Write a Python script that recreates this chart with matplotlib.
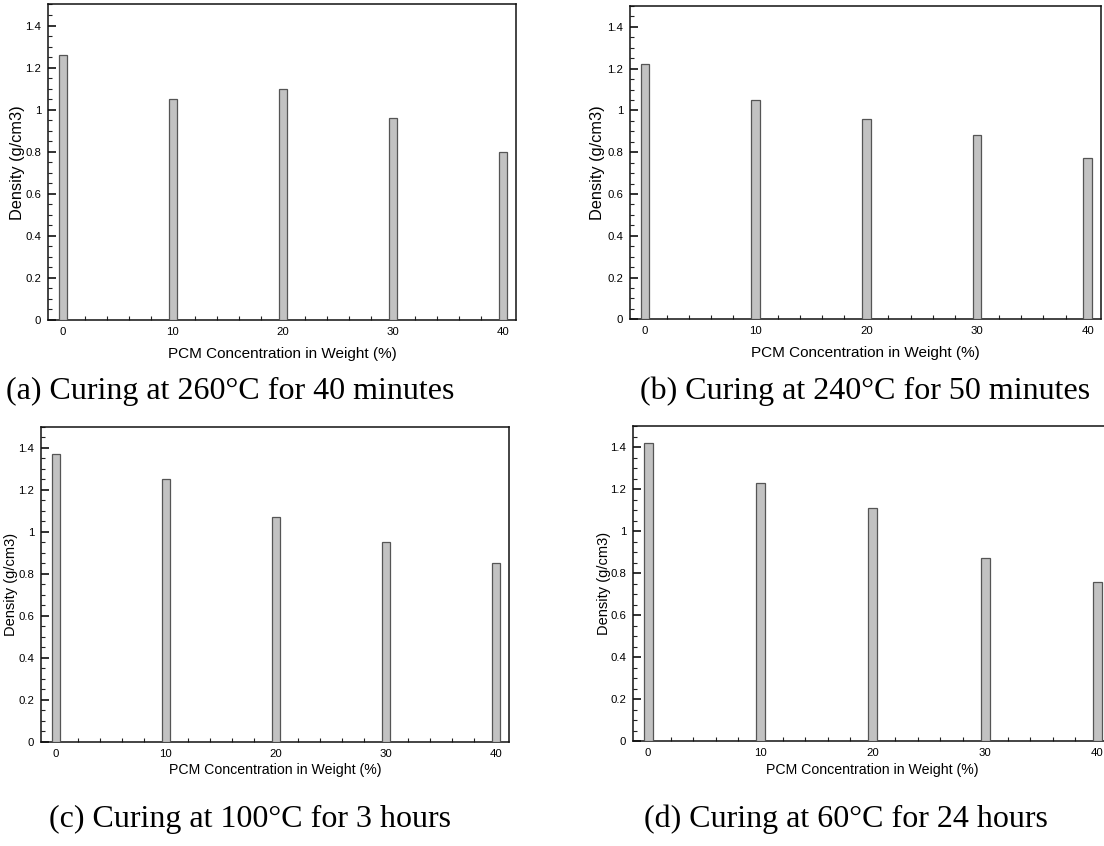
import numpy as np
import matplotlib
matplotlib.use("Agg")
import matplotlib.pyplot as plt
from matplotlib.ticker import MultipleLocator, FuncFormatter

# PCM weight fraction (%) and measured density (g/cm3) for each curing schedule
pcm = [0, 10, 20, 30, 40]
density_a = [1.26, 1.05, 1.10, 0.96, 0.80]
density_b = [1.22, 1.05, 0.96, 0.88, 0.77]
density_c = [1.37, 1.25, 1.07, 0.95, 0.85]
density_d = [1.42, 1.23, 1.11, 0.87, 0.76]

captions = [
    "(a) Curing at 260\u00b0C for 40 minutes",
    "(b) Curing at 240\u00b0C for 50 minutes",
    "(c) Curing at 100\u00b0C for 3 hours",
    "(d) Curing at 60\u00b0C for 24 hours",
]

W, H = 1104, 846
fig = plt.figure(figsize=(W / 100, H / 100), dpi=100)
sans = "Liberation Sans"
serif = "Liberation Serif"


def add_panel(box, values, xlab_size, ylab_size, ylab_x, xlab_y):
    left, top, right, bottom = box
    ax = fig.add_axes([left / W, 1 - bottom / H, (right - left) / W, (bottom - top) / H])
    ax.bar(pcm, values, width=0.78, color="#c2c2c2", edgecolor="#555555",
           linewidth=0.9, zorder=3)
    ax.set_xlim(-1.35, 41.2)
    ax.set_ylim(0, 1.5)
    ax.xaxis.set_major_locator(MultipleLocator(10))
    ax.xaxis.set_minor_locator(MultipleLocator(2))
    ax.yaxis.set_major_locator(MultipleLocator(0.2))
    ax.yaxis.set_minor_locator(MultipleLocator(0.05))
    ax.yaxis.set_major_formatter(FuncFormatter(lambda v, p: "%g" % round(v, 2)))
    ax.tick_params(which="both", direction="in", top=False, right=False,
                   labelsize=8.2, pad=5, color="#222222")
    ax.tick_params(which="major", length=5.5, width=1.3)
    ax.tick_params(which="minor", length=3, width=0.8)
    for lab in ax.get_xticklabels() + ax.get_yticklabels():
        lab.set_fontfamily(sans)
    for sp in ax.spines.values():
        sp.set_linewidth(1.1)
        sp.set_color("#111111")
    ax.set_ylabel("Density (g/cm3)", fontsize=ylab_size, family=sans)
    ax.set_xlabel("PCM Concentration in Weight (%)", fontsize=xlab_size, family=sans)
    ax.yaxis.set_label_coords(ylab_x, 0.5)
    ax.xaxis.set_label_coords(0.5, xlab_y)
    return ax


add_panel((48, 4.5, 516, 320), density_a, 11, 11.8, -0.049, -0.086)
add_panel((630, 6, 1101, 319.3), density_b, 11, 11.8, -0.053, -0.086)
add_panel((41, 427, 509, 741.7), density_c, 10.2, 10.5, -0.049, -0.069)
add_panel((633, 426, 1111, 741.3), density_d, 10.2, 10.5, -0.046, -0.069)

# sub-figure captions underneath each panel
cap_pos = [(6, 391), (640, 391), (49, 819), (644, 819)]
for (cx, cy), txt in zip(cap_pos, captions):
    fig.text(cx / W, 1 - cy / H, txt, family=serif, fontsize=23,
             ha="left", va="center")

fig.savefig("out.png", dpi=100)
